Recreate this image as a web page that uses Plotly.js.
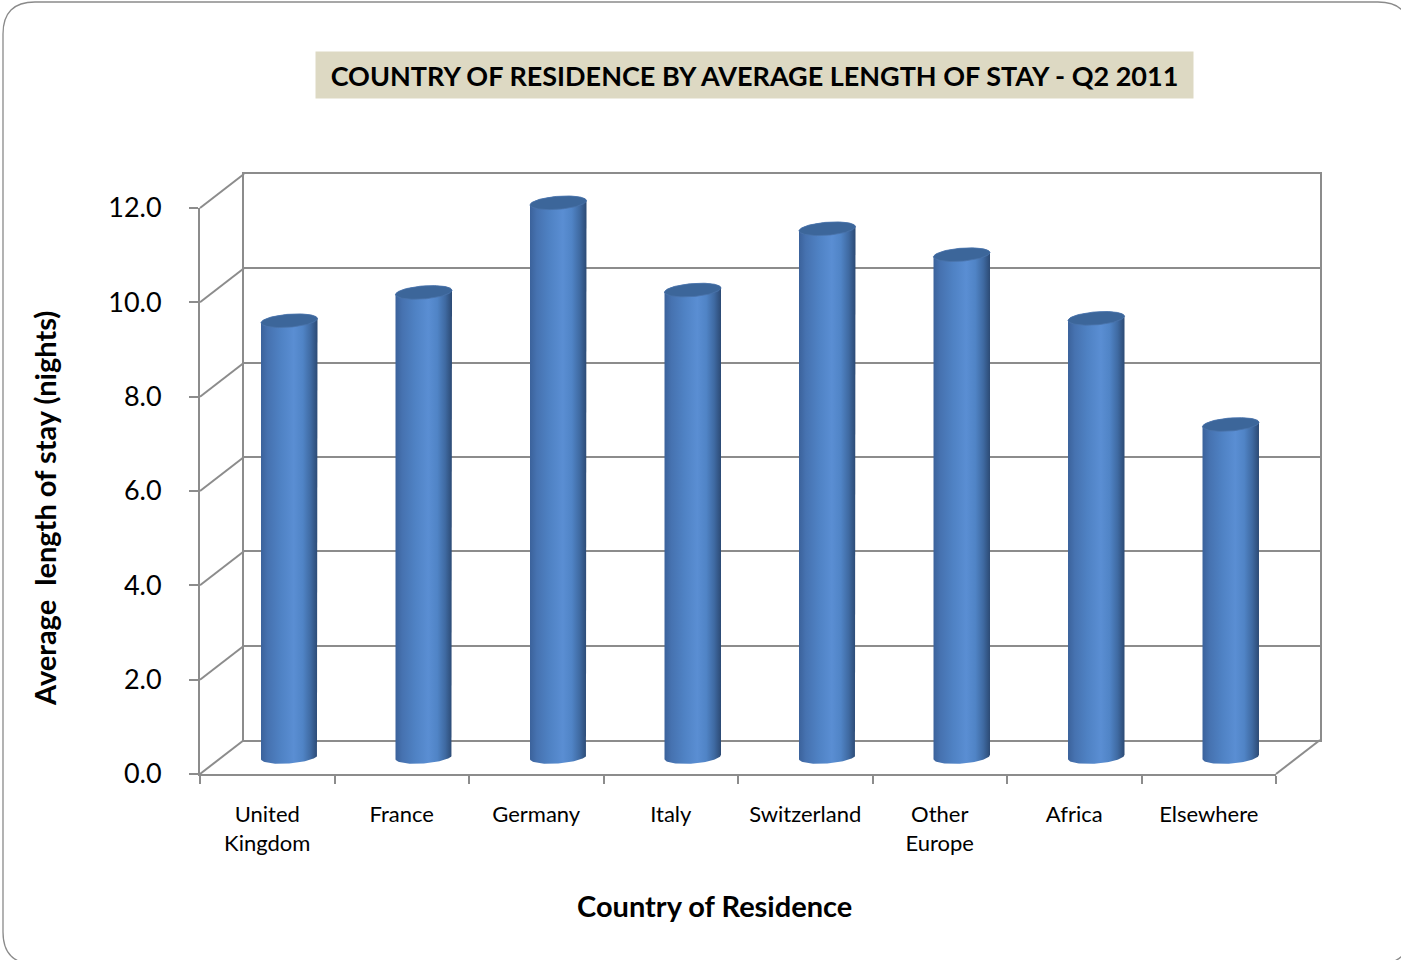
<!DOCTYPE html>
<html>
<head>
<meta charset="utf-8">
<script src="https://cdn.plot.ly/plotly-3.0.1.min.js"></script>
<style>
  html, body { margin: 0; padding: 0; background: #ffffff; }
  #chart { width: 1401px; height: 960px; }
</style>
</head>
<body>
<div id="chart"></div>
<script>
// ---- data ----
const countries = ['United Kingdom', 'France', 'Germany', 'Italy', 'Switzerland', 'Other Europe', 'Africa', 'Elsewhere'];
const countryLabels = ['United<br>Kingdom', 'France', 'Germany', 'Italy', 'Switzerland', 'Other<br>Europe', 'Africa', 'Elsewhere'];
const avgStayNights = [9.25, 9.85, 11.75, 9.9, 11.2, 10.65, 9.3, 7.05];
const yTickValues = [0, 2, 4, 6, 8, 10, 12];

// ---- page geometry (pixels) ----
const W = 1401, H = 960;
const px = x => x / W;
const py = y => 1 - y / H;

const FRONT = { left: 200, right: 1276, zero: 774, top: 208 };
const DEPTH = { dx: 44, dy: -34 };             // front -> back wall offset
const Y_MAX = 12;
const unit = (FRONT.zero - FRONT.top) / Y_MAX;   // pixels per night

const BACK = {
  left: FRONT.left + DEPTH.dx, right: FRONT.right + DEPTH.dx,
  zero: FRONT.zero + DEPTH.dy, top: FRONT.top + DEPTH.dy
};
const MID = {
  left: FRONT.left + DEPTH.dx / 2, right: FRONT.right + DEPTH.dx / 2,
  zero: FRONT.zero + DEPTH.dy / 2
};
// bar plane gets a padded value range so the cylinder ends are not clipped
const MID_RANGE = [-1, 13];

const GRID = '#8c8c8c';
const FONT = 'Lato, "Open Sans", "DejaVu Sans", sans-serif';

// ---- cylinder outlines built from the values ----
const HALF_W = 0.21;      // category units
const RY = 0.138;         // ellipse half height, nights
const TILT = 0.045;       // slight rotation of the end caps
const STEPS = 48;

function cylinderBody(cx, v) {
  const xs = [], ys = [];
  for (let i = 0; i <= STEPS; i++) {
    const t = Math.PI - Math.PI * i / STEPS;
    xs.push(cx + HALF_W * Math.cos(t));
    ys.push(v + RY * Math.sin(t) + TILT * Math.cos(t));
  }
  for (let i = 0; i <= STEPS; i++) {
    const t = -Math.PI * i / STEPS;
    xs.push(cx + HALF_W * Math.cos(t));
    ys.push(RY * Math.sin(t) + TILT * Math.cos(t));
  }
  xs.push(xs[0]); ys.push(ys[0]);
  return { xs, ys };
}

function cylinderTop(cx, v) {
  const xs = [], ys = [];
  for (let i = 0; i <= STEPS * 2; i++) {
    const t = 2 * Math.PI * i / (STEPS * 2);
    xs.push(cx + HALF_W * Math.cos(t));
    ys.push(v + RY * Math.sin(t) + TILT * Math.cos(t));
  }
  return { xs, ys };
}

const bodyScale = [
  [0.00, '#3b629b'],
  [0.12, '#4672b0'],
  [0.35, '#4f82c4'],
  [0.58, '#5a8ed3'],
  [0.74, '#5084c6'],
  [0.88, '#3f6aa2'],
  [1.00, '#2c4a74']
];

const traces = [];

// empty traces so the front and back subplots are created
traces.push({ type: 'scatter', x: [], y: [], xaxis: 'x', yaxis: 'y', hoverinfo: 'skip', showlegend: false });
traces.push({ type: 'scatter', x: [], y: [], xaxis: 'x2', yaxis: 'y2', hoverinfo: 'skip', showlegend: false });

avgStayNights.forEach((v, i) => {
  const body = cylinderBody(i, v);
  traces.push({
    type: 'scatter', mode: 'lines', name: countries[i],
    x: body.xs, y: body.ys, xaxis: 'x3', yaxis: 'y3',
    fill: 'toself', line: { width: 0, color: 'rgba(0,0,0,0)' },
    fillgradient: { type: 'horizontal', colorscale: bodyScale },
    hoverinfo: 'skip', showlegend: false
  });
});
avgStayNights.forEach((v, i) => {
  const top = cylinderTop(i, v);
  traces.push({
    type: 'scatter', mode: 'lines', name: countries[i] + ' top',
    x: top.xs, y: top.ys, xaxis: 'x3', yaxis: 'y3',
    fill: 'toself', fillcolor: '#3c669a',
    line: { width: 0.8, color: '#4a74ab' },
    hoverinfo: 'skip', showlegend: false
  });
});

// ---- 3D frame: side wall lines and floor edges ----
const frontY = v => FRONT.zero - v * unit;
const backY = v => BACK.zero - v * unit;
const shapes = [];
yTickValues.forEach(v => {
  shapes.push({
    type: 'line', xref: 'paper', yref: 'paper', layer: 'below',
    x0: px(FRONT.left), y0: py(frontY(v)), x1: px(BACK.left), y1: py(backY(v)),
    line: { color: GRID, width: 2 }
  });
});
shapes.push({
  type: 'line', xref: 'paper', yref: 'paper', layer: 'below',
  x0: px(FRONT.right), y0: py(frontY(0)), x1: px(BACK.right), y1: py(backY(0)),
  line: { color: GRID, width: 2 }
});

// rounded outer border
(function () {
  const x0 = 3, y0 = 2, x1 = 1410, y1 = 964, r = 32;
  const P = (x, y) => px(x).toFixed(5) + ',' + py(y).toFixed(5);
  const path = 'M' + P(x0 + r, y0) + ' L' + P(x1 - r, y0) + ' Q' + P(x1, y0) + ' ' + P(x1, y0 + r) +
    ' L' + P(x1, y1 - r) + ' Q' + P(x1, y1) + ' ' + P(x1 - r, y1) +
    ' L' + P(x0 + r, y1) + ' Q' + P(x0, y1) + ' ' + P(x0, y1 - r) +
    ' L' + P(x0, y0 + r) + ' Q' + P(x0, y0) + ' ' + P(x0 + r, y0) + ' Z';
  shapes.push({ type: 'path', xref: 'paper', yref: 'paper', path: path, layer: 'below',
    line: { color: '#8a8a8a', width: 1.3 } });
})();

const boundaryTicks = [];
for (let i = 0; i <= countries.length; i++) boundaryTicks.push(i - 0.5);

const layout = {
  width: W, height: H,
  margin: { l: 0, r: 0, t: 0, b: 0, pad: 0 },
  paper_bgcolor: '#ffffff',
  plot_bgcolor: 'rgba(0,0,0,0)',
  showlegend: false,
  hovermode: false,
  font: { family: FONT, color: '#000000' },

  // front axes: value scale and category labels
  xaxis: {
    domain: [px(FRONT.left), px(FRONT.right)], range: [-0.5, countries.length - 0.5],
    tickmode: 'array', tickvals: countries.map((c, i) => i), ticktext: countryLabels,
    ticks: '', showgrid: false, zeroline: false,
    showline: true, linecolor: GRID, linewidth: 2,
    minor: { tickmode: 'array', tickvals: boundaryTicks, ticks: 'outside', ticklen: 8,
             tickwidth: 2, tickcolor: GRID, showgrid: false },
    tickfont: { family: FONT, size: 22, color: '#000000' },
    ticklabelstandoff: 20,
    anchor: 'y', fixedrange: true
  },
  yaxis: {
    domain: [py(FRONT.zero), py(FRONT.top)], range: [0, Y_MAX],
    tickmode: 'array', tickvals: yTickValues, tickformat: '.1f',
    ticks: 'outside', ticklen: 9, tickwidth: 2, tickcolor: GRID,
    showgrid: false, zeroline: false,
    showline: true, linecolor: GRID, linewidth: 2,
    tickfont: { family: FONT, size: 27, color: '#000000' },
    ticklabelstandoff: 22,
    anchor: 'x', fixedrange: true
  },

  // back wall with its grid
  xaxis2: {
    domain: [px(BACK.left), px(BACK.right)], range: [0, 1],
    showticklabels: false, ticks: '', showgrid: false, zeroline: false,
    showline: true, mirror: true, linecolor: GRID, linewidth: 2,
    anchor: 'y2', fixedrange: true
  },
  yaxis2: {
    domain: [py(BACK.zero), py(BACK.top)], range: [0, Y_MAX],
    tickmode: 'array', tickvals: yTickValues,
    showticklabels: false, ticks: '', zeroline: false,
    showgrid: true, gridcolor: GRID, gridwidth: 2,
    showline: true, mirror: true, linecolor: GRID, linewidth: 2,
    anchor: 'x2', fixedrange: true
  },

  // middle plane carrying the cylinders
  xaxis3: {
    domain: [px(MID.left), px(MID.right)], range: [-0.5, countries.length - 0.5],
    visible: false, anchor: 'y3', fixedrange: true
  },
  yaxis3: {
    domain: [py(MID.zero - MID_RANGE[0] * unit), py(MID.zero - MID_RANGE[1] * unit)],
    range: MID_RANGE, visible: false, anchor: 'x3', fixedrange: true
  },

  shapes: shapes,
  annotations: [
    {
      text: '<b>COUNTRY OF RESIDENCE BY AVERAGE LENGTH OF STAY - Q2 2011</b>',
      xref: 'paper', yref: 'paper', x: px(754.5), y: py(75),
      xanchor: 'center', yanchor: 'middle', showarrow: false,
      bgcolor: '#ddd9c3', width: 871, height: 40, borderpad: 3,
      font: { family: FONT, size: 27, color: '#000000' }
    },
    {
      text: '<b>Average  length of stay (nights)</b>',
      xref: 'paper', yref: 'paper', x: px(45), y: py(509),
      xanchor: 'center', yanchor: 'middle', textangle: -90, showarrow: false,
      font: { family: FONT, size: 29, color: '#000000' }
    },
    {
      text: '<b>Country of Residence</b>',
      xref: 'paper', yref: 'paper', x: px(714), y: py(905),
      xanchor: 'center', yanchor: 'middle', showarrow: false,
      font: { family: FONT, size: 29, color: '#000000' }
    }
  ]
};

Plotly.newPlot('chart', traces, layout, { displayModeBar: false, staticPlot: true });
</script>
</body>
</html>
